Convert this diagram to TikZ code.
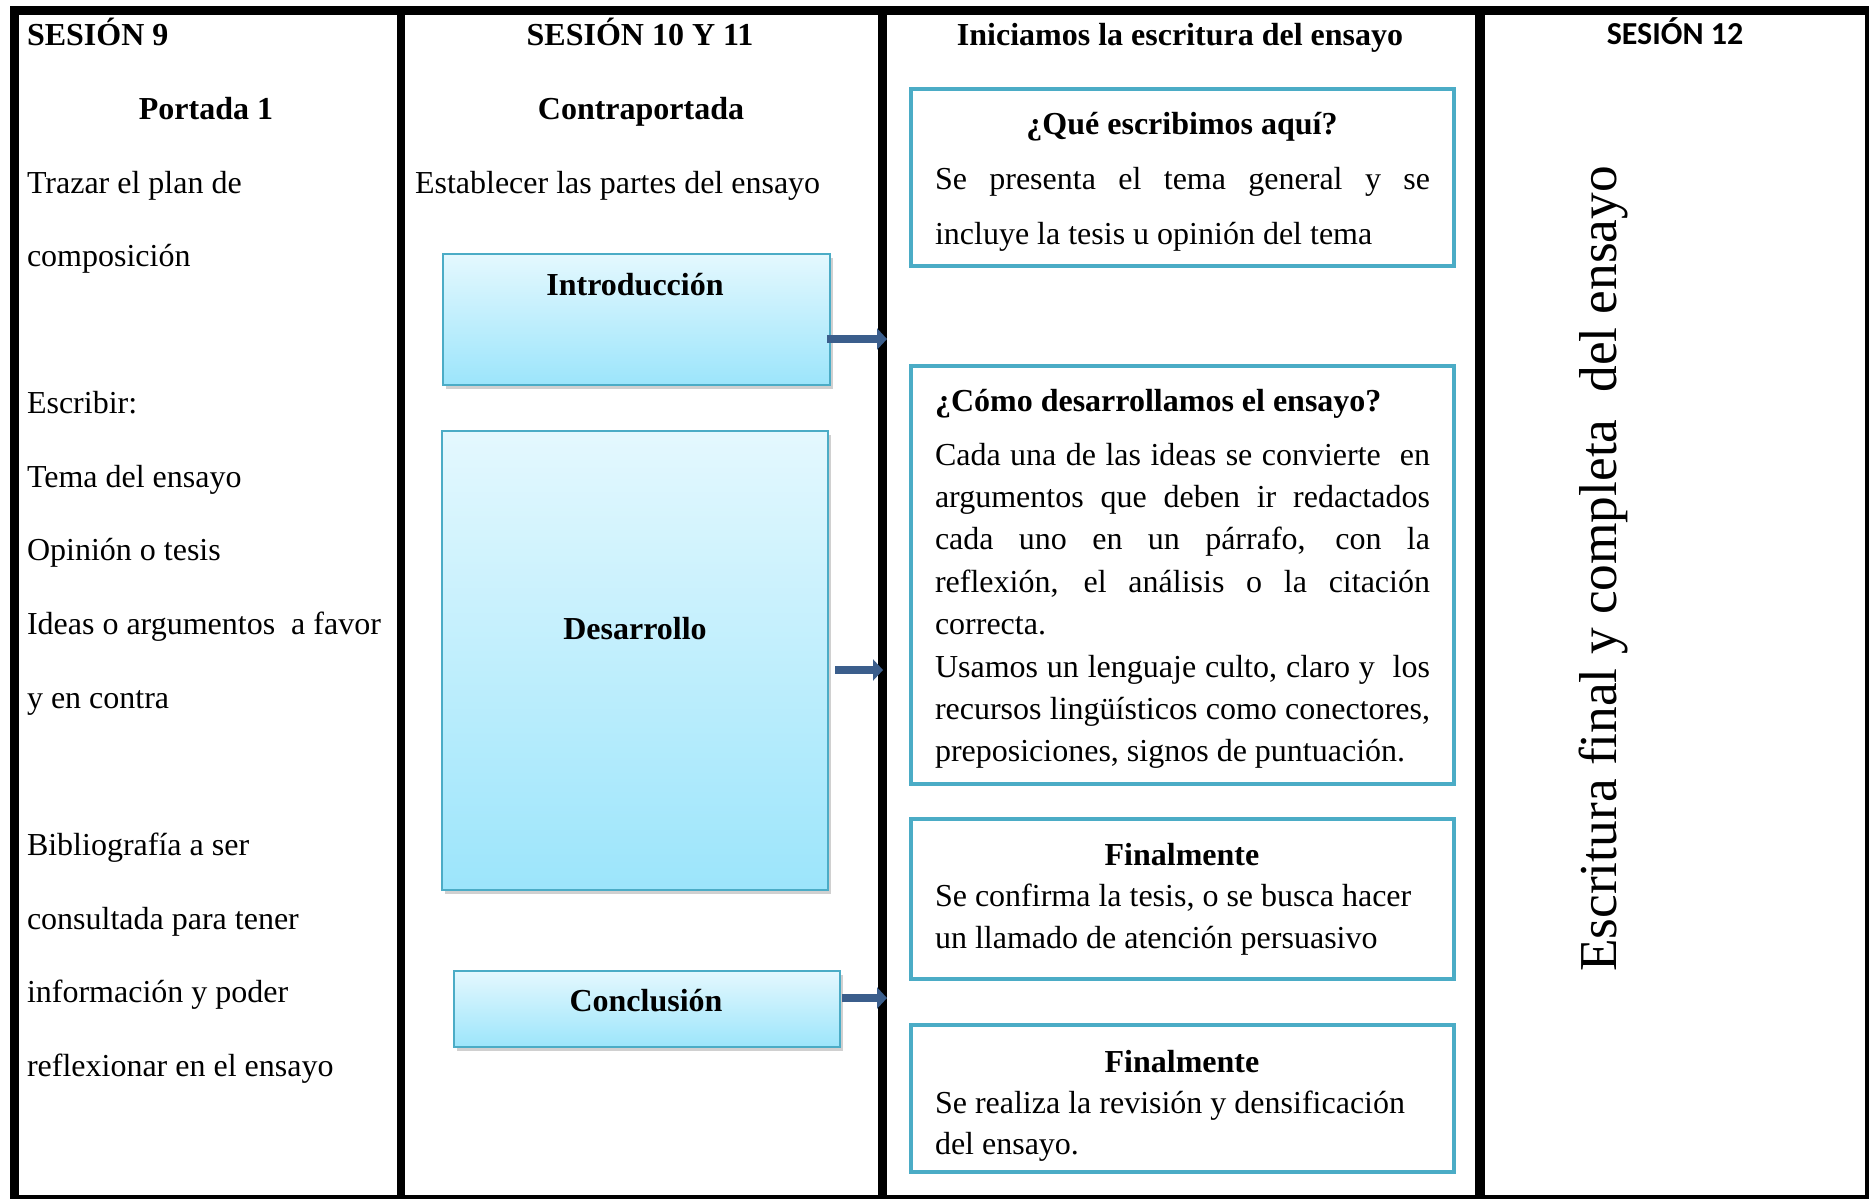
\documentclass[tikz,border=0pt]{standalone}
\usepackage{fontspec}
\setmainfont{Liberation Serif}
\newfontfamily\calib{Carlito}
\usetikzlibrary{arrows.meta,shadows}
\definecolor{tealline}{HTML}{4BACC6}
\definecolor{arrowblue}{HTML}{3B5E8C}
\definecolor{gtop}{HTML}{E4F8FE}
\definecolor{gbot}{HTML}{9CE5FB}
\tikzset{
  base/.style={inner sep=0pt, outer sep=0pt, font=\fontsize{16}{19}\selectfont},
  txt/.style={base, anchor=base west},
  ctr/.style={base, anchor=base},
  hd/.style={base, anchor=base, font=\fontsize{16}{19}\selectfont\bfseries},
  hdl/.style={base, anchor=base west, font=\fontsize{16}{19}\selectfont\bfseries},
  gbox/.style={base, draw=tealline, line width=0.8pt, top color=gtop, bottom color=gbot,
     drop shadow={shadow xshift=1.5pt, shadow yshift=-2pt, opacity=0.3, fill=black!60}},
  tbox/.style={base, draw=tealline, line width=2.2pt, fill=white, minimum width=271.5pt},
  arr/.style={draw=arrowblue, line width=4pt, -{Triangle[length=5pt,width=10.5pt]}},
  frame/.style={line width=4.5pt, draw=black},
}
\newcommand{\jline}[1]{\makebox[247.5pt][s]{#1}}
\begin{document}
\begin{tikzpicture}[x=0.5pt,y=-0.5pt]
\useasboundingbox (0,0) rectangle (1869,1199);
\fill[white] (0,0) rectangle (1869,1199);

% ---------- column 2 boxes ----------
\node[gbox, minimum width=193.5pt, minimum height=65.5pt] (intro) at (636.5,319.5) {};
\node[gbox, minimum width=193pt, minimum height=229.5pt] (dev) at (635,660.5) {};
\node[gbox, minimum width=193pt, minimum height=38pt] (conc) at (647,1009) {};
\node[hd] (introT) at (635,295.5) {Introducción};
\node[hd] (devT) at (635,639.5) {Desarrollo};
\node[hd] (concT) at (646,1011.5) {Conclusión};

% ---------- column 3 boxes ----------
\node[tbox, minimum height=88.5pt] (q1) at (1182.5,177.5) {};
\node[tbox, minimum height=209pt] (q2) at (1182.5,575) {};
\node[tbox, minimum height=80pt] (q3) at (1182.5,899) {};
\node[tbox, minimum height=73.5pt] (q4) at (1182.5,1098.5) {};

% ---------- frame ----------
\begin{scope}
\clip (0,0) rectangle (1869,1199);
\draw[frame] (14.5,10.5) rectangle (1869,1199);
\draw[line width=3.8pt] (401,10) -- (401,1199);
\draw[line width=4.5pt] (882,10) -- (882,1199);
\draw[line width=4.8pt] (1480,10) -- (1480,1199);
\end{scope}

% ---------- arrows ----------
\coordinate (e1) at (887,339);
\coordinate (e2) at (883,670);
\coordinate (e3) at (887,998);
\draw[arr] ([xshift=-1.5pt]intro.east |- e1) -- (e1);
\draw[arr] ([xshift=3.5pt]dev.east |- e2) -- (e2);
\draw[arr] ([xshift=1pt]conc.east |- e3) -- (e3);

% ---------- column 1 ----------
\node[hdl] (s9) at (27,45) {SESIÓN 9};
\node[hd] (port) at (206,119) {Portada 1};
\node[txt] (c1a) at (27,193) {Trazar el plan de};
\node[txt] (c1b) at (27,266.5) {composición};
\node[txt] (c1c) at (27,413.5) {Escribir:};
\node[txt] (c1d) at (27,487) {Tema del ensayo};
\node[txt] (c1e) at (27,560.5) {Opinión o tesis};
\node[txt] (c1f) at (27,634.5) {Ideas o argumentos\ \ a favor};
\node[txt] (c1g) at (27,708) {y en contra};
\node[txt] (c1h) at (27,855) {Bibliografía a ser};
\node[txt] (c1i) at (27,929) {consultada para tener};
\node[txt] (c1j) at (27,1002.5) {información y poder};
\node[txt] (c1k) at (27,1076) {reflexionar en el ensayo};

% ---------- column 2 ----------
\node[hd] (s10) at (640,45) {SESIÓN 10 Y 11};
\node[hd] (contra) at (641,119) {Contraportada};
\node[txt] (estab) at (415,193) {Establecer las partes del ensayo};

% ---------- column 3 ----------
\node[hd] (inic) at (1180,45) {Iniciamos la escritura del ensayo};
\node[hd] (q1h) at (1182,134.5) {¿Qué escribimos aquí?};
\node[txt] (q1a) at (935,189.5) {\jline{Se presenta el tema general y se}};
\node[txt] (q1b) at (935,244.5) {incluye la tesis u opinión del tema};

\node[hdl] (q2h) at (935,411) {¿Cómo desarrollamos el ensayo?};
\node[txt] (q2a) at (935,465) {\jline{Cada una de las ideas se convierte\ \ en}};
\node[txt] (q2b) at (935,507.4) {\jline{argumentos que deben ir redactados}};
\node[txt] (q2c) at (935,549.8) {\jline{cada uno en un párrafo, con la}};
\node[txt] (q2d) at (935,592.2) {\jline{reflexión, el análisis o la citación}};
\node[txt] (q2e) at (935,634.6) {correcta.};
\node[txt] (q2f) at (935,677) {\jline{Usamos un lenguaje culto, claro y\ \ los}};
\node[txt] (q2g) at (935,719.4) {\jline{recursos lingüísticos como conectores,}};
\node[txt] (q2i) at (935,761.8) {preposiciones, signos de puntuación.};

\node[hd] (q3h) at (1182,865) {Finalmente};
\node[txt] (q3a) at (935,906) {Se confirma la tesis, o se busca hacer};
\node[txt] (q3b) at (935,948) {un llamado de atención persuasivo};

\node[hd] (q4h) at (1182,1072) {Finalmente};
\node[txt] (q4a) at (935,1113) {Se realiza la revisión y densificación};
\node[txt] (q4b) at (935,1154) {del ensayo.};

% ---------- column 4 ----------
\node[ctr, font=\calib\fontsize{16}{19}\selectfont\bfseries] (s12) at (1675,44) {SESIÓN 12};
\node[base, rotate=90, font=\fontsize{26.67}{32}\selectfont] (final) at (1603,569) {Escritura final y completa\ \ del ensayo};
\end{tikzpicture}
\end{document}
